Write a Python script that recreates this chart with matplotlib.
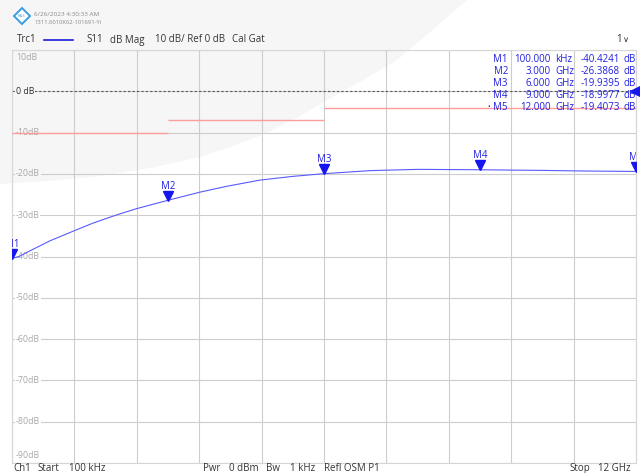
import numpy as np
import matplotlib.pyplot as plt
from matplotlib.patches import Polygon
from matplotlib.transforms import offset_copy

plt.rcParams['font.family'] = ['Open Sans', 'DejaVu Sans']

W, H = 640, 473

# S11 trace
freq_ghz = [0.0001, 0.12, 0.35, 0.73, 1.17, 1.56, 2.02, 2.40, 3.0, 3.62, 4.13,
            4.77, 5.4, 6.0, 6.9, 7.8, 9.0, 10.2, 11.0, 12.0]
s11_db = [-40.42, -40.1, -38.6, -36.2, -33.9, -31.9, -29.9, -28.4, -26.39, -24.4,
          -23.0, -21.5, -20.6, -19.94, -19.2, -18.9, -19.0, -19.15, -19.3, -19.41]

# markers
marker_names = ['M1', 'M2', 'M3', 'M4', 'M5']
marker_freq = [0.0001, 3.0, 6.0, 9.0, 12.0]
marker_freq_txt = ['100.000', '3.000', '6.000', '9.000', '12.000']
marker_unit = ['kHz', 'GHz', 'GHz', 'GHz', 'GHz']
marker_db = [-40.4241, -26.3868, -19.9395, -18.9977, -19.4073]

# limit line segments
limit_start = [0.0001, 3.0, 6.0]
limit_stop = [3.0, 6.0, 12.0]
limit_db = [-10, -7, -4]

y_ticks = [10, 0, -10, -20, -30, -40, -50, -60, -70, -80, -90]
y_labels = ['10dB', '0 dB', '-10dB', '-20dB', '-30dB', '-40dB', '-50dB',
            '-60dB', '-70dB', '-80dB', '-90dB']
x_grid = np.linspace(0, 12, 11)

BLUE = '#2020e0'
TRACE = '#5a5aff'
GRAY_BG = '#f6f6f6'


def px(x, y):
    return x / W, 1 - y / H


fig = plt.figure(figsize=(W / 100, H / 100), dpi=100)
fig.patch.set_facecolor('white')

# watermark swoosh in the background
swoosh = [(0, 0), (467, 0), (430, 32), (397, 60), (360, 82), (327, 100),
          (300, 116), (267, 133), (230, 147), (200, 157), (150, 168),
          (100, 176), (50, 181), (0, 184)]
fig.patches.append(Polygon([px(*p) for p in swoosh], closed=True,
                           transform=fig.transFigure, facecolor=GRAY_BG,
                           edgecolor='none', zorder=-5))

ax = fig.add_axes([12 / W, 1 - 463 / H, 624 / W, 413 / H])
ax.set_facecolor('none')
ax.set_xlim(0, 12)
ax.set_ylim(-90, 10)
ax.set_xticks(x_grid)
ax.set_yticks(y_ticks)
ax.tick_params(length=0, labelbottom=False, labelleft=False)
ax.grid(color='#cdcdcd', lw=0.8)
for s in ax.spines.values():
    s.set_color('#d6d6d6')
    s.set_linewidth(0.8)

# y labels sit inside the grid
ytr = ax.get_yaxis_transform()
for v, lab in zip(y_ticks, y_labels):
    va = 'center'
    yy = v
    if v == 10:
        va, yy = 'top', 9.3
    if v == -90:
        va, yy = 'bottom', -89.2
    col = '#303030' if v == 0 else '#a8a8a8'
    bg = GRAY_BG if v > -25 else 'white'
    ax.text(0.006, yy, lab, transform=ytr, fontsize=6.3, color=col, va=va,
            ha='left', zorder=3,
            bbox=dict(facecolor=bg, edgecolor='none', pad=0.6))

# reference line and limits
ax.axhline(0, color='#555555', lw=0.8, ls=(0, (2, 2)), zorder=2)
ax.hlines(limit_db, limit_start, limit_stop, color='#ff9c9c', lw=1, zorder=4)

ax.plot(freq_ghz, s11_db, color=TRACE, lw=0.8, zorder=4)

# marker triangles and labels
tri_tr = offset_copy(ax.transData, fig=fig, y=4.5, units='dots')
lab_tr = offset_copy(ax.transData, fig=fig, y=14, units='dots')
ax.plot(marker_freq, marker_db, 'v', ms=7, color='#1515f0', transform=tri_tr,
        zorder=5)
for name, f, d in zip(marker_names, marker_freq, marker_db):
    ax.text(f, d, name, transform=lab_tr, fontsize=7, color=BLUE,
            ha='center', va='center', clip_on=True, zorder=5)

# reference level arrow at the right edge
ax.plot(12, 0, '<', ms=8, color='#1515f0', clip_on=False, zorder=6)

# marker table
rows_y = [60, 71.5, 83, 95, 107.5]
for i, y in enumerate(rows_y):
    fig.text(*px(508, y), marker_names[i], fontsize=7, color=BLUE,
             ha='right', va='center')
    fig.text(*px(551, y), marker_freq_txt[i], fontsize=7, color=BLUE,
             ha='right', va='center')
    fig.text(*px(555, y), marker_unit[i], fontsize=7, color=BLUE,
             ha='left', va='center')
    fig.text(*px(620, y), '%.4f' % marker_db[i], fontsize=7, color=BLUE,
             ha='right', va='center')
    fig.text(*px(623, y), 'dB', fontsize=7, color=BLUE, ha='left', va='center')
fig.text(*px(489, rows_y[4]), '•', fontsize=5, color=BLUE, ha='center',
         va='center')

# header
logo = [(22, 8), (30, 16), (22, 24), (14, 16)]
fig.patches.append(Polygon([px(*p) for p in logo], closed=True,
                           transform=fig.transFigure, facecolor='white',
                           edgecolor='#3a9de0', lw=1.4, zorder=3))
fig.text(*px(22, 16), 'R&S', fontsize=3, color='#3a9de0', ha='center',
         va='center', zorder=4)
fig.text(*px(34, 14), '6/26/2023 4:30:33 AM', fontsize=4.6, color='#8a8a8a',
         ha='left', va='center')
fig.text(*px(34, 22), '1311.6010K62-101691-Yi', fontsize=4.2, color='#8a8a8a',
         ha='left', va='center')

hdr_y = 40
fig.text(*px(17, hdr_y), 'Trc1', fontsize=7, color='#333333', va='center')
fig.add_artist(plt.Line2D([44 / W, 73 / W], [1 - hdr_y / H, 1 - hdr_y / H],
                          color='#1a1ae0', lw=1.2))
fig.text(*px(86, hdr_y), 'S11', fontsize=7, color='#333333', va='center')
fig.text(*px(110, hdr_y), 'dB Mag', fontsize=7, color='#333333', va='center')
fig.text(*px(155, hdr_y), '10 dB/ Ref 0 dB', fontsize=7, color='#333333',
         va='center')
fig.text(*px(232, hdr_y), 'Cal Gat', fontsize=7, color='#333333', va='center')
fig.text(*px(616, hdr_y), '1', fontsize=7, color='#333333', va='center')
fig.text(*px(623, hdr_y), '∨', fontsize=6, color='#333333', va='center',
         family='DejaVu Sans')

# footer
foot_y = 468
for x, s in [(13, 'Ch1'), (37, 'Start'), (69, '100 kHz'),
             (203, 'Pwr'), (229, '0 dBm'), (266, 'Bw'), (290, '1 kHz'),
             (324, 'Refl OSM P1'), (569, 'Stop'), (598, '12 GHz')]:
    fig.text(*px(x, foot_y), s, fontsize=7, color='#333333', va='center')

fig.savefig('out.png', dpi=100)
